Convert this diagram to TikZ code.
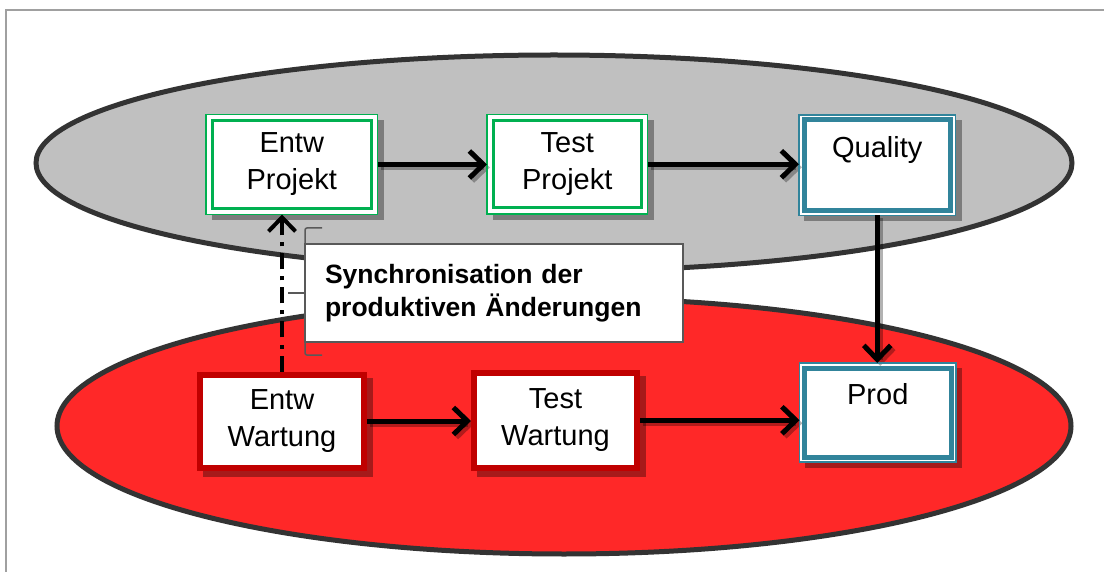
\documentclass[tikz,border=0pt]{standalone}
\usepackage{fontspec}
\setmainfont{Liberation Sans}
\usetikzlibrary{arrows.meta}
\definecolor{grn}{HTML}{00B050}
\definecolor{tl}{HTML}{31849B}
\definecolor{rdb}{HTML}{C00000}
\definecolor{redfill}{HTML}{FF2828}
\definecolor{grayfill}{HTML}{C0C0C0}
\definecolor{ellb}{HTML}{333333}
\definecolor{framec}{HTML}{A0A0A0}
\definecolor{brk}{HTML}{595959}
\pgfdeclarelayer{bg}
\pgfdeclarelayer{shd}
\pgfsetlayers{bg,shd,main}
\tikzset{
  box/.style={draw, fill=white, inner sep=0pt, outer sep=0pt, align=center,
    font=\fontsize{29}{37}\selectfont},
  gbox/.style={box, draw=grn, line width=3pt},
  tbox/.style={box, draw=tl, line width=5pt},
  rbox/.style={box, draw=rdb, line width=6pt},
  conn/.style={line width=5pt, -{Straight Barb[length=14pt,width=27pt]}},
  connshadow/.style={conn, black, opacity=0.3, transform canvas={shift={(3pt,-3pt)}}},
  shadowfill/.style={fill=black, opacity=0.35},
  callout/.style={draw=brk, line width=1.5pt, fill=white, inner sep=0pt, outer sep=0pt,
    minimum width=378pt, minimum height=98pt, text width=338pt, align=left,
    font=\bfseries\fontsize{26.5}{33}\selectfont},
}
\begin{document}
\begin{tikzpicture}[x=1pt,y=-1pt]
\useasboundingbox (0,0) rectangle (1104,572);
\begin{pgfonlayer}{bg}
  \fill[white] (0,0) rectangle (1104,572);
  \draw[framec, line width=2pt] (6,572) -- (6,10) -- (1104,10);
  \draw[ellb, fill=grayfill, line width=5pt] (554,163) ellipse [x radius=518, y radius=108];
  \draw[ellb, fill=redfill, line width=5pt] (564,426) ellipse [x radius=507, y radius=128];
\end{pgfonlayer}

% boxes
\node[gbox, minimum width=159.5pt, minimum height=88pt] (ep) at (291.75,164.5) {Entw\\Projekt};
\node[gbox, minimum width=148.5pt, minimum height=87.5pt] (tp) at (567.25,164.25) {Test\\Projekt};
\node[tbox, minimum width=146.5pt, minimum height=90.5pt] (q) at (877.25,165.25) {Quality\\~};
\node[tbox, minimum width=146.5pt, minimum height=89pt] (pr) at (877.75,412.5) {Prod\\~};
\node[rbox, minimum width=164pt, minimum height=93pt] (ew) at (282,421) {Entw\\Wartung};
\node[rbox, minimum width=163pt, minimum height=94.5pt] (tw) at (555.5,420.25) {Test\\Wartung};

% outer thin borders of double-bordered boxes
\draw[grn, line width=1.5pt] ([shift={(-6,-6)}]ep.north west) rectangle ([shift={(6,6)}]ep.south east);
\draw[grn, line width=1.5pt] ([shift={(-6,-6)}]tp.north west) rectangle ([shift={(6,6)}]tp.south east);
\draw[tl, line width=1.5pt] ([shift={(-5,-5)}]q.north west) rectangle ([shift={(5,5)}]q.south east);
\draw[tl, line width=1.5pt] ([shift={(-5,-5)}]pr.north west) rectangle ([shift={(5,5)}]pr.south east);

\begin{pgfonlayer}{shd}
  \fill[shadowfill] (ep.north west) rectangle ([shift={(12,12)}]ep.south east);
  \fill[shadowfill] (tp.north west) rectangle ([shift={(12,12)}]tp.south east);
  \fill[shadowfill] (q.north west) rectangle ([shift={(11,11)}]q.south east);
  \fill[shadowfill] (pr.north west) rectangle ([shift={(11,11)}]pr.south east);
  \fill[shadowfill] ([shift={(3,3)}]ew.north west) rectangle ([shift={(9,9)}]ew.south east);
  \fill[shadowfill] ([shift={(3,3)}]tw.north west) rectangle ([shift={(9,9)}]tw.south east);
  \fill[white] ([shift={(-6,-6)}]ep.north west) rectangle ([shift={(6,6)}]ep.south east);
  \fill[white] ([shift={(-6,-6)}]tp.north west) rectangle ([shift={(6,6)}]tp.south east);
  \fill[white] ([shift={(-5,-5)}]q.north west) rectangle ([shift={(5,5)}]q.south east);
  \fill[white] ([shift={(-5,-5)}]pr.north west) rectangle ([shift={(5,5)}]pr.south east);
  % arrow shadows
  \draw[connshadow] ([xshift=6pt]ep.east) -- ([xshift=-6pt]tp.west |- ep.east);
  \draw[connshadow] ([xshift=6pt]tp.east) -- ([xshift=-5pt]q.west |- tp.east);
  \draw[connshadow] ([yshift=-5pt]q.south) -- ([yshift=5pt]pr.north -| q.south);
  \draw[connshadow] ([xshift=3pt]ew.east) -- ([xshift=-3pt]tw.west |- ew.east);
  \draw[connshadow] ([xshift=3pt]tw.east) -- ([xshift=-5pt]pr.west |- tw.east);
\end{pgfonlayer}

% connectors
\draw[conn] ([xshift=6pt]ep.east) -- ([xshift=-6pt]tp.west |- ep.east);
\draw[conn] ([xshift=6pt]tp.east) -- ([xshift=-5pt]q.west |- tp.east);
\draw[conn] ([yshift=-5pt]q.south) -- ([yshift=5pt]pr.north -| q.south);
\draw[conn] ([xshift=3pt]ew.east) -- ([xshift=-3pt]tw.west |- ew.east);
\draw[conn] ([xshift=3pt]tw.east) -- ([xshift=-5pt]pr.west |- tw.east);
\draw[conn, line width=4pt, dash pattern=on 16pt off 7pt on 4pt off 7pt, shorten >=6pt]
  ([yshift=3pt]ew.north) -- (ew.north |- ep.south);

% callout
\node[callout] (cb) at (494,293) {Synchronisation der\\produktiven Änderungen};
\begin{pgfonlayer}{shd}
  \draw[brk, line width=1.5pt, rounded corners=2pt]
    ([shift={(17,-16)}]cb.north west) -- ([shift={(0,-16)}]cb.north west)
    -- ([shift={(0,13)}]cb.south west) -- ([shift={(17,13)}]cb.south west);
  \coordinate (ptr) at ([xshift=-17pt]cb.west);
  \draw[brk, line width=1.5pt] (ptr) -- (cb.west);
\end{pgfonlayer}
\end{tikzpicture}
\end{document}
